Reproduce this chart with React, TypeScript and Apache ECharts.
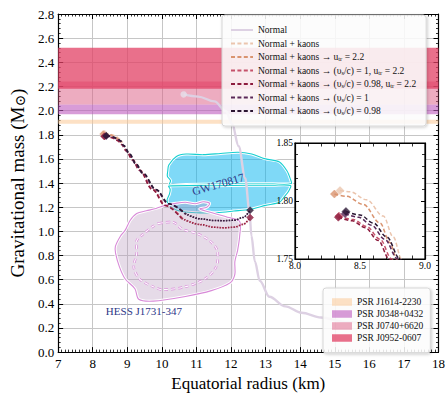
import React, { useEffect, useRef } from "react";
import * as echarts from "echarts";

const SERIF = '"Liberation Serif", "Times New Roman", "DejaVu Serif", serif';

// ---------- axes ----------
const X_MIN = 7, X_MAX = 18, X_STEP = 1;
const Y_MIN = 0, Y_MAX = 2.8, Y_STEP = 0.2;
const IX_MIN = 8.0, IX_MAX = 9.0, IX_STEP = 0.5;
const IY_MIN = 1.75, IY_MAX = 1.85, IY_STEP = 0.05;

// ---------- legend names ----------
const N_NORMAL = "Normal";
const N_KAONS = "Normal + kaons";
const N_UTR = "Normal + kaons -> utr = 2.2";
const N_V1_UTR = "Normal + kaons -> vs = 1, utr = 2.2";
const N_V98_UTR = "Normal + kaons -> vs = 0.98, utr = 2.2";
const N_V1 = "Normal + kaons -> vs = 1";
const N_V98 = "Normal + kaons -> vs = 0.98";

const LEGEND_LABELS: Record<string, string> = {
  [N_NORMAL]: "Normal",
  [N_KAONS]: "Normal + kaons",
  [N_UTR]: "Normal + kaons → u{sub|tr} = 2.2",
  [N_V1_UTR]: "Normal + kaons → (υ{sub|s}/c) = 1, u{sub|tr} = 2.2",
  [N_V98_UTR]: "Normal + kaons → (υ{sub|s}/c) = 0.98, u{sub|tr} = 2.2",
  [N_V1]: "Normal + kaons → (υ{sub|s}/c) = 1",
  [N_V98]: "Normal + kaons → (υ{sub|s}/c) = 0.98",
};

// ---------- pulsar mass bands ----------
const BAND_NAMES = ["PSR J1614-2230", "PSR J0348+0432", "PSR J0740+6620", "PSR J0952-0607"];
const BAND_LOW = [1.892, 1.97, 2.05, 2.18];
const BAND_HIGH = [1.924, 2.05, 2.24, 2.52];
const BAND_COLORS = [
  "rgba(252,200,150,0.55)",
  "rgba(190,90,190,0.6)",
  "rgba(220,90,130,0.5)",
  "rgba(226,64,100,0.75)",
];

// ---------- Normal EOS ----------
const NORMAL_R = [10.63, 11.05, 11.52, 11.85, 12.03, 12.22, 12.41, 12.53, 12.59, 12.69, 12.83, 13.11, 13.57, 14.04, 14.6, 15.3, 16.4];
const NORMAL_M = [2.134, 2.116, 2.076, 1.997, 1.891, 1.705, 1.44, 1.175, 0.963, 0.75, 0.591, 0.459, 0.379, 0.326, 0.286, 0.25, 0.21];

// ---------- kaon curves ----------
const KAONS_R = [8.346, 8.423, 8.551, 8.679, 8.756, 8.82, 8.86];
const KAONS_M = [1.809, 1.808, 1.801, 1.787, 1.769, 1.75, 1.735];

const UTR_R = [8.303, 8.397, 8.526, 8.654, 8.731, 8.782, 8.82];
const UTR_M = [1.806, 1.804, 1.797, 1.781, 1.764, 1.75, 1.735];

const V1_UTR_R = [8.338, 8.449, 8.551, 8.654, 8.744, 8.85, 8.99, 9.17, 9.37, 9.74, 10.11, 10.59];
const V1_UTR_M = [1.787, 1.784, 1.778, 1.767, 1.75, 1.72, 1.665, 1.59, 1.506, 1.347, 1.215, 1.108];
const V1_UTR_TAIL_R = [10.59, 11.15, 11.5, 11.8, 12.1, 12.35, 12.55];
const V1_UTR_TAIL_M = [1.108, 1.056, 1.035, 1.029, 1.035, 1.058, 1.114];

const V98_UTR_R = [8.333, 8.44, 8.54, 8.64, 8.725, 8.83, 8.97, 9.15, 9.35, 9.72, 10.09, 10.57];
const V98_UTR_M = [1.786, 1.783, 1.777, 1.766, 1.75, 1.72, 1.665, 1.59, 1.506, 1.347, 1.215, 1.106];
const V98_UTR_TAIL_R = [10.57, 11.13, 11.5, 11.8, 12.1, 12.35, 12.55];
const V98_UTR_TAIL_M = [1.106, 1.055, 1.034, 1.029, 1.035, 1.058, 1.114];

const V1_R = [8.385, 8.49, 8.59, 8.69, 8.79, 8.88, 9.06, 9.23, 9.44, 9.81, 10.19, 10.66];
const V1_M = [1.789, 1.786, 1.779, 1.767, 1.75, 1.71, 1.639, 1.56, 1.48, 1.347, 1.228, 1.146];
const V1_TAIL_R = [10.66, 11.13, 11.5, 11.8, 12.1, 12.35, 12.55];
const V1_TAIL_M = [1.146, 1.102, 1.09, 1.088, 1.093, 1.115, 1.175];

const V98_R = [8.392, 8.5, 8.603, 8.705, 8.808, 8.9, 9.08, 9.25, 9.46, 9.83, 10.21, 10.68];
const V98_M = [1.791, 1.788, 1.781, 1.769, 1.75, 1.71, 1.639, 1.56, 1.48, 1.347, 1.228, 1.148];
const V98_TAIL_R = [10.68, 11.15, 11.5, 11.8, 12.1, 12.35, 12.55];
const V98_TAIL_M = [1.148, 1.103, 1.09, 1.088, 1.093, 1.115, 1.175];

// ---------- GW170817 contours ----------
const GW_UPPER_R = [10.2, 10.42, 10.7, 11.2, 11.7, 12.2, 12.6, 13.0, 13.4, 13.62, 13.72, 13.74, 13.2, 12.5, 11.5, 10.7, 10.22, 10.25, 10.16, 10.17];
const GW_UPPER_M = [1.55, 1.62, 1.64, 1.635, 1.645, 1.655, 1.64, 1.6, 1.575, 1.5, 1.43, 1.395, 1.394, 1.394, 1.392, 1.388, 1.385, 1.42, 1.456, 1.5];
const GW_LOWER_R = [10.2, 11.5, 12.5, 13.2, 13.72, 13.66, 13.55, 13.4, 13.0, 12.56, 12.08, 11.6, 11.1, 10.68, 10.4, 10.2, 10.15, 10.22, 10.24];
const GW_LOWER_M = [1.375, 1.378, 1.382, 1.382, 1.38, 1.33, 1.29, 1.24, 1.215, 1.183, 1.168, 1.155, 1.153, 1.16, 1.178, 1.22, 1.26, 1.31, 1.35];

// ---------- HESS J1731-347 contours ----------
const HESS_OUTER_R = [8.655, 8.8, 8.94, 9.08, 9.27, 9.55, 9.83, 10.1, 10.4, 10.68, 10.96, 11.2, 11.38, 11.3, 11.1, 11.5, 11.94, 12.25, 12.25, 12.19, 12.11, 12.11, 11.97, 11.43, 10.68, 9.75, 9.33, 9.22, 8.94, 8.77, 8.66];
const HESS_OUTER_M = [0.875, 0.96, 1.01, 1.09, 1.148, 1.17, 1.19, 1.215, 1.232, 1.241, 1.228, 1.245, 1.232, 1.2, 1.185, 1.15, 1.114, 1.082, 0.963, 0.843, 0.748, 0.644, 0.573, 0.509, 0.461, 0.422, 0.438, 0.525, 0.605, 0.708, 0.82];
const HESS_INNER_R = [9.918, 10.339, 10.59, 11.04, 11.377, 11.6, 11.574, 11.237, 10.676, 10.03, 9.75, 9.357, 9.189, 9.273, 9.273, 9.469, 9.75];
const HESS_INNER_M = [1.066, 1.074, 1.018, 0.979, 0.923, 0.843, 0.708, 0.605, 0.541, 0.517, 0.541, 0.605, 0.7, 0.819, 0.923, 0.979, 1.042];

// ---------- annotations (data coords) ----------
const GW_LABEL = { text: "GW170817", r: 11.63, m: 1.39, angle: 16 };
const HESS_LABEL = { text: "HESS J1731-347", r: 9.48, m: 0.342, angle: 0 };

// ---------- colours ----------
const C_NORMAL = "#ddd1e3";
const C_KAONS = "#ebc5ae";
const C_UTR = "#d9936f";
const C_V1_UTR = "#c5526a";
const C_V98_UTR = "#8c1b3d";
const C_V1 = "#5a2858";
const C_V98 = "#2b1733";

const zip = (xs: number[], ys: number[]) => xs.map((x, i) => [x, ys[i]]);

function lineSeries(name: string, xs: number[], ys: number[], color: string, dash: any, width: number, inset: boolean, z: number) {
  return {
    type: "line",
    name,
    data: zip(xs, ys),
    xAxisIndex: inset ? 2 : 0,
    yAxisIndex: inset ? 2 : 0,
    smooth: 0.35,
    smoothMonotone: "x",
    symbol: "none",
    showSymbol: false,
    silent: true,
    z,
    lineStyle: { color, width, type: dash, cap: "butt" },
    itemStyle: { color },
  };
}

function markerSeries(name: string, pts: number[][], color: string, inset: boolean, size: number, symbol = "diamond") {
  return {
    type: "scatter",
    name,
    data: pts,
    xAxisIndex: inset ? 2 : 0,
    yAxisIndex: inset ? 2 : 0,
    symbol,
    symbolSize: size,
    silent: true,
    z: inset ? 14 : 6,
    itemStyle: { color, borderColor: color, borderWidth: 0.5 },
  };
}

function polygonSeries(name: string, xs: number[], ys: number[], fill: string, stroke: string, dashed: boolean, z: number) {
  const pts = zip(xs, ys);
  return {
    type: "custom",
    name,
    data: pts,
    encode: { x: 0, y: 1 },
    xAxisIndex: 0,
    yAxisIndex: 0,
    silent: true,
    clip: true,
    z,
    renderItem: (params: any, api: any) => {
      if (params.dataIndex !== 0) return null;
      const p = pts.map((q) => api.coord(q));
      if (dashed) {
        return {
          type: "group",
          children: [
            { type: "polygon", shape: { points: p, smooth: 0.3 }, style: { fill: "none", stroke, lineWidth: 2.4, lineDash: [4, 3] } },
            { type: "polygon", shape: { points: p, smooth: 0.3 }, style: { fill: "none", stroke: "#ffffff", lineWidth: 1.1, lineDash: [4, 3] } },
          ],
        };
      }
      return {
        type: "group",
        children: [
          { type: "polygon", shape: { points: p, smooth: 0.3 }, style: { fill, stroke: "#ffffff", lineWidth: 3 } },
          { type: "polygon", shape: { points: p, smooth: 0.3 }, style: { fill: "none", stroke, lineWidth: 1.1 } },
        ],
      };
    },
  };
}

function bandSeries(i: number) {
  return {
    type: "custom",
    name: BAND_NAMES[i],
    data: [[X_MIN, BAND_LOW[i], X_MAX, BAND_HIGH[i]]],
    encode: { x: [0, 2], y: [1, 3] },
    xAxisIndex: 0,
    yAxisIndex: 0,
    silent: true,
    clip: true,
    z: 1,
    itemStyle: { color: BAND_COLORS[i] },
    renderItem: (params: any, api: any) => {
      const a = api.coord([api.value(0), api.value(3)]);
      const b = api.coord([api.value(2), api.value(1)]);
      return {
        type: "rect",
        shape: { x: a[0], y: a[1], width: b[0] - a[0], height: b[1] - a[1] },
        style: { fill: api.visual("color") },
      };
    },
  };
}

function textSeries(lbl: { text: string; r: number; m: number; angle: number }, size: number) {
  return {
    type: "custom",
    name: lbl.text + " label",
    data: [[lbl.r, lbl.m]],
    encode: { x: 0, y: 1 },
    xAxisIndex: 0,
    yAxisIndex: 0,
    silent: true,
    z: 7,
    renderItem: (params: any, api: any) => {
      const c = api.coord([api.value(0), api.value(1)]);
      return {
        type: "text",
        x: c[0],
        y: c[1],
        rotation: (lbl.angle * Math.PI) / 180,
        style: {
          text: lbl.text,
          fill: "#2e3888",
          font: `${size}px ${SERIF}`,
          align: "center",
          verticalAlign: "middle",
        },
      };
    },
  };
}

const tickStyle = { color: "#000", width: 1 };

function mainX(position: "bottom" | "top") {
  const bottom = position === "bottom";
  return {
    type: "value",
    gridIndex: 0,
    position,
    min: X_MIN,
    max: X_MAX,
    interval: X_STEP,
    name: bottom ? "Equatorial radius (km)" : "",
    nameLocation: "middle",
    nameGap: 19,
    nameTextStyle: { fontFamily: SERIF, fontSize: 17, color: "#000" },
    axisLine: { show: true, onZero: false, lineStyle: { color: "#000", width: 1.2 } },
    axisTick: { show: true, inside: true, length: 5, lineStyle: tickStyle },
    minorTick: { show: true, splitNumber: 10, length: 2.5, lineStyle: { color: "#000", width: 0.8 } },
    axisLabel: { show: bottom, fontFamily: SERIF, fontSize: 13, color: "#000", margin: 5 },
    splitLine: { show: bottom, lineStyle: { color: "#c6c6c6", width: 1 } },
  };
}

function mainY(position: "left" | "right") {
  const left = position === "left";
  return {
    type: "value",
    gridIndex: 0,
    position,
    min: Y_MIN,
    max: Y_MAX,
    interval: Y_STEP,
    name: left ? "Gravitational mass (M{sun|⊙})" : "",
    nameLocation: "middle",
    nameGap: 26,
    nameTextStyle: {
      fontFamily: SERIF,
      fontSize: 19,
      color: "#000",
      rich: { sun: { fontFamily: SERIF, fontSize: 14, color: "#000", verticalAlign: "bottom", lineHeight: 16 } },
    },
    axisLine: { show: true, onZero: false, lineStyle: { color: "#000", width: 1.2 } },
    axisTick: { show: true, inside: true, length: 5, lineStyle: tickStyle },
    minorTick: { show: true, splitNumber: 5, length: 2.5, lineStyle: { color: "#000", width: 0.8 } },
    axisLabel: { show: left, fontFamily: SERIF, fontSize: 13, color: "#000", margin: 4, formatter: (v: number) => v.toFixed(1) },
    splitLine: { show: left, lineStyle: { color: "#c6c6c6", width: 1 } },
  };
}

function insetX(position: "bottom" | "top") {
  const bottom = position === "bottom";
  return {
    type: "value",
    gridIndex: 1,
    position,
    min: IX_MIN,
    max: IX_MAX,
    interval: IX_STEP,
    z: 11,
    axisLine: { show: true, onZero: false, lineStyle: { color: "#000", width: 1.2 } },
    axisTick: { show: true, inside: true, length: 4, lineStyle: tickStyle },
    minorTick: { show: true, splitNumber: 5, length: 3.5, lineStyle: { color: "#000", width: 0.8 } },
    axisLabel: { show: bottom, fontFamily: SERIF, fontSize: 9.5, color: "#000", margin: 2, formatter: (v: number) => v.toFixed(1) },
    splitLine: { show: false },
  };
}

function insetY(position: "left" | "right") {
  const left = position === "left";
  return {
    type: "value",
    gridIndex: 1,
    position,
    min: IY_MIN,
    max: IY_MAX,
    interval: IY_STEP,
    z: 11,
    axisLine: { show: true, onZero: false, lineStyle: { color: "#000", width: 1.2 } },
    axisTick: { show: true, inside: true, length: 4, lineStyle: tickStyle },
    minorTick: { show: true, splitNumber: 5, length: 3, lineStyle: { color: "#000", width: 0.8 } },
    axisLabel: { show: left, fontFamily: SERIF, fontSize: 9.5, color: "#000", margin: 2, formatter: (v: number) => v.toFixed(2) },
    splitLine: { show: false },
  };
}

function buildOption() {
  const DASH = [4, 2.4];
  const DOT = [1.2, 1.6];
  const curves = [
    { name: N_KAONS, r: KAONS_R, m: KAONS_M, color: C_KAONS },
    { name: N_UTR, r: UTR_R, m: UTR_M, color: C_UTR },
    { name: N_V1_UTR, r: V1_UTR_R, m: V1_UTR_M, tr: V1_UTR_TAIL_R, tm: V1_UTR_TAIL_M, color: C_V1_UTR },
    { name: N_V98_UTR, r: V98_UTR_R, m: V98_UTR_M, tr: V98_UTR_TAIL_R, tm: V98_UTR_TAIL_M, color: C_V98_UTR },
    { name: N_V1, r: V1_R, m: V1_M, tr: V1_TAIL_R, tm: V1_TAIL_M, color: C_V1 },
    { name: N_V98, r: V98_R, m: V98_M, tr: V98_TAIL_R, tm: V98_TAIL_M, color: C_V98 },
  ];

  const series: any[] = [];
  for (let i = 0; i < BAND_NAMES.length; i++) series.push(bandSeries(i));

  series.push(polygonSeries("GW upper", GW_UPPER_R, GW_UPPER_M, "rgba(0,180,240,0.5)", "#16cfd0", false, 2));
  series.push(polygonSeries("GW lower", GW_LOWER_R, GW_LOWER_M, "rgba(0,180,240,0.5)", "#16cfd0", false, 2));
  series.push(polygonSeries("HESS outer", HESS_OUTER_R, HESS_OUTER_M, "rgba(184,152,189,0.35)", "#d88ad8", false, 2));
  series.push(polygonSeries("HESS inner", HESS_INNER_R, HESS_INNER_M, "none", "#d88ad8", true, 2));
  series.push(textSeries(GW_LABEL, 11.5));
  series.push(textSeries(HESS_LABEL, 11));

  series.push(lineSeries(N_NORMAL, NORMAL_R, NORMAL_M, C_NORMAL, "solid", 2.4, false, 3));
  series.push(markerSeries("Normal start", [[NORMAL_R[0], NORMAL_M[0]]], "#e6dee9", false, 6, "circle"));

  curves.forEach((c, k) => {
    series.push(lineSeries(c.name, c.r, c.m, c.color, DASH, 1.5, false, 4 + k * 0.01));
    if (c.tr) series.push(lineSeries(c.name + " tail", c.tr, c.tm, c.color, DOT, 1.6, false, 4 + k * 0.01));
    series.push(lineSeries(c.name, c.r, c.m, c.color, DASH, 1.5, true, 12 + k * 0.01));
  });
  curves.forEach((c) => {
    series.push(markerSeries(c.name + " start", [[c.r[0], c.m[0]]], c.color, false, 7));
    series.push(markerSeries(c.name + " start inset", [[c.r[0], c.m[0]]], c.color, true, 8));
  });
  series.push(markerSeries("end 0.98", [[V98_TAIL_R[V98_TAIL_R.length - 1], V98_TAIL_M[V98_TAIL_M.length - 1]]], C_V98, false, 7));
  series.push(markerSeries("end 0.98 utr", [[V98_UTR_TAIL_R[V98_UTR_TAIL_R.length - 1], V98_UTR_TAIL_M[V98_UTR_TAIL_M.length - 1]]], C_V98_UTR, false, 7));

  return {
    animation: false,
    backgroundColor: "#ffffff",
    textStyle: { fontFamily: SERIF },
    grid: [
      { left: 49, right: 8, top: 14, bottom: 31, show: false },
      { left: 295, top: 143, width: 130, height: 116, show: true, backgroundColor: "#ffffff", borderColor: "#000", borderWidth: 1.2, z: 10 },
    ],
    xAxis: [mainX("bottom"), mainX("top"), insetX("bottom"), insetX("top")],
    yAxis: [mainY("left"), mainY("right"), insetY("left"), insetY("right")],
    legend: [
      {
        data: [N_NORMAL, N_KAONS, N_UTR, N_V1_UTR, N_V98_UTR, N_V1, N_V98],
        orient: "vertical",
        left: 222,
        top: 15,
        padding: [10, 10, 10, 8],
        itemGap: 3.5,
        itemWidth: 22,
        itemHeight: 10,
        selectedMode: false,
        itemStyle: { opacity: 0, borderWidth: 0 },
        backgroundColor: "rgba(255,255,255,0.85)",
        borderColor: "#d6d6d6",
        borderWidth: 1,
        borderRadius: 3,
        shadowBlur: 3,
        shadowColor: "rgba(0,0,0,0.22)",
        shadowOffsetX: 1,
        shadowOffsetY: 1,
        z: 20,
        formatter: (n: string) => LEGEND_LABELS[n] || n,
        textStyle: {
          fontFamily: SERIF,
          fontSize: 9.5,
          color: "#111",
          rich: { sub: { fontFamily: SERIF, fontSize: 6.5, color: "#111", verticalAlign: "bottom", lineHeight: 9 } },
        },
      },
      {
        data: BAND_NAMES,
        orient: "vertical",
        left: 323,
        top: 288,
        padding: [9, 7, 10, 9],
        itemGap: 2,
        itemWidth: 20,
        itemHeight: 7.5,
        icon: "rect",
        selectedMode: false,
        backgroundColor: "rgba(255,255,255,0.85)",
        borderColor: "#d6d6d6",
        borderWidth: 1,
        borderRadius: 3,
        shadowBlur: 3,
        shadowColor: "rgba(0,0,0,0.22)",
        shadowOffsetX: 1,
        shadowOffsetY: 1,
        z: 20,
        textStyle: { fontFamily: SERIF, fontSize: 9.5, color: "#111" },
      },
    ],
    series,
  };
}

export default function App() {
  const ref = useRef<HTMLDivElement>(null);
  useEffect(() => {
    const chart = echarts.init(ref.current as HTMLDivElement, null, { renderer: "svg" });
    chart.setOption(buildOption() as any);
    return () => chart.dispose();
  }, []);
  return (
    <div
      ref={ref}
      style={{ position: "absolute", left: 0, top: 0, width: 448, height: 397, background: "#fff" }}
    />
  );
}
